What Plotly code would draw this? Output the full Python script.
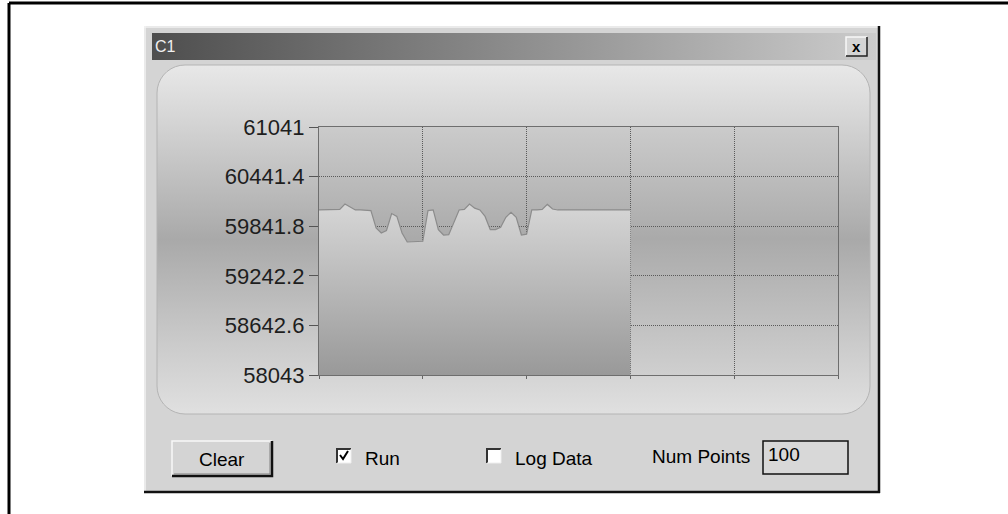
import numpy as np
import plotly.graph_objects as go

# ---------------- data ----------------
window_title = "C1"
y_tick_values = [58043, 58642.6, 59242.2, 59841.8, 60441.4, 61041]
y_tick_labels = ["58043", "58642.6", "59242.2", "59841.8", "60441.4", "61041"]
x_axis_max = 100            # "Num Points" setting
x_grid_values = [0, 20, 40, 60, 80, 100]
sample_index = list(range(61))
sample_values = [
    60038, 60038, 60038, 60038, 60045, 60110, 60070, 60038, 60038, 60038,
    60030, 59820, 59760, 59790, 59995, 59960, 59760, 59651, 59651, 59651,
    59660, 60030, 60038, 59800, 59735, 59740, 59900, 60038, 60045, 60110,
    60060, 60038, 59960, 59800, 59800, 59830, 59950, 60010, 59950, 59735,
    59745, 60038, 60038, 60045, 60105, 60050, 60038, 60038, 60038, 60038,
    60038, 60038, 60038, 60038, 60038, 60038, 60038, 60038, 60038, 60038,
    60038,
]
control_labels = ["Clear", "Run", "Log Data", "Num Points"]
num_points_text = "100"

# ---------------- figure ----------------
W, H = 1008, 514
FONT = "Liberation Sans, Arial, sans-serif"
fig = go.Figure()


def rrect(x0, y0, x1, y1, r, n=10):
    xs, ys = [], []
    corners = [(x1 - r, y0 + r, -90, 0), (x1 - r, y1 - r, 0, 90),
               (x0 + r, y1 - r, 90, 180), (x0 + r, y0 + r, 180, 270)]
    for cx, cy, a0, a1 in corners:
        for t in np.linspace(a0, a1, n):
            xs.append(cx + r * np.cos(np.radians(t)))
            ys.append(cy + r * np.sin(np.radians(t)))
    xs.append(xs[0])
    ys.append(ys[0])
    return xs, ys


# rounded inner panel (gradient)
px, py = rrect(157, 65, 870, 414, 28)
fig.add_trace(go.Scatter(
    x=px, y=py, mode="lines", fill="toself", xaxis="x", yaxis="y",
    line=dict(color="#b4b4b4", width=1),
    fillgradient=dict(type="vertical", start=65, stop=414,
                      colorscale=[[0, "#e8e8e8"], [0.15, "#d6d6d6"], [0.5, "#a9a9a9"],
                                  [0.8, "#cbcbcb"], [1, "#e0e0e0"]]),
    hoverinfo="skip", showlegend=False))

# plot-area background gradient
fig.add_trace(go.Scatter(
    x=[319, 838, 838, 319, 319], y=[127, 127, 375, 375, 127], mode="lines",
    fill="toself", xaxis="x", yaxis="y", line=dict(width=0),
    fillgradient=dict(type="vertical", start=127, stop=375,
                      colorscale=[[0, "#cbcbcb"], [0.45, "#aaaaaa"], [1, "#cfcfcf"]]),
    hoverinfo="skip", showlegend=False))

# title bar gradient
fig.add_trace(go.Scatter(
    x=[152, 876, 876, 152, 152], y=[33, 33, 60, 60, 33], mode="lines",
    fill="toself", xaxis="x", yaxis="y", line=dict(width=0),
    fillgradient=dict(type="horizontal", start=152, stop=876,
                      colorscale=[[0, "#4e4e4e"], [1, "#cbcbcb"]]),
    hoverinfo="skip", showlegend=False))

# the data series
fig.add_trace(go.Scatter(
    x=sample_index, y=sample_values, mode="lines", fill="tozeroy",
    xaxis="x2", yaxis="y2",
    line=dict(color="#8c8c8c", width=1.2),
    fillgradient=dict(type="vertical", start=58043, stop=60110,
                      colorscale=[[0, "#999999"], [1, "#d6d6d6"]]),
    hoverinfo="skip", showlegend=False))

shapes = []
# outer page frame (top and left)
shapes.append(dict(type="line", xref="x", yref="y", x0=9, x1=1008, y0=3, y1=3,
                   line=dict(color="black", width=3), layer="below"))
shapes.append(dict(type="line", xref="x", yref="y", x0=9, x1=9, y0=3, y1=514,
                   line=dict(color="black", width=3), layer="below"))
# window face
shapes.append(dict(type="rect", xref="x", yref="y", x0=144, x1=880, y0=26, y1=493,
                   fillcolor="#d4d4d4", line=dict(width=0), layer="below"))
shapes.append(dict(type="line", xref="x", yref="y", x0=145, x1=145, y0=26, y1=492,
                   line=dict(color="#f2f2f2", width=1.5), layer="below"))
shapes.append(dict(type="line", xref="x", yref="y", x0=144, x1=879, y0=27, y1=27,
                   line=dict(color="#f2f2f2", width=1.5), layer="below"))
shapes.append(dict(type="line", xref="x", yref="y", x0=144, x1=880, y0=492, y1=492,
                   line=dict(color="#111111", width=2.5), layer="below"))
shapes.append(dict(type="line", xref="x", yref="y", x0=879, x1=879, y0=26, y1=493,
                   line=dict(color="#111111", width=2.5), layer="below"))

# close button
shapes.append(dict(type="rect", xref="x", yref="y", x0=846, x1=867, y0=37, y1=56,
                   fillcolor="#d4d4d4", line=dict(width=0)))
shapes.append(dict(type="path", xref="x", yref="y", path="M 846 56 L 846 37 L 867 37",
                   line=dict(color="#f8f8f8", width=1.5)))
shapes.append(dict(type="path", xref="x", yref="y", path="M 846 56 L 867 56 L 867 37",
                   line=dict(color="#202020", width=1.5)))

# Clear button
shapes.append(dict(type="rect", xref="x", yref="y", x0=172, x1=272, y0=441, y1=476,
                   fillcolor="#d4d4d4", line=dict(width=0)))
shapes.append(dict(type="path", xref="x", yref="y", path="M 172 476 L 172 441 L 272 441",
                   line=dict(color="#f8f8f8", width=1.5)))
shapes.append(dict(type="path", xref="x", yref="y", path="M 172 476 L 272 476 L 272 441",
                   line=dict(color="#111111", width=2.5)))
shapes.append(dict(type="path", xref="x", yref="y", path="M 174 474 L 270 474 L 270 443",
                   line=dict(color="#808080", width=1)))

# check boxes
for bx in (337, 487):
    shapes.append(dict(type="rect", xref="x", yref="y", x0=bx, x1=bx + 14, y0=449, y1=463,
                       fillcolor="white", line=dict(width=0)))
    shapes.append(dict(type="path", xref="x", yref="y",
                       path=f"M {bx} 463 L {bx} 449 L {bx + 14} 449",
                       line=dict(color="#333333", width=2)))
    shapes.append(dict(type="path", xref="x", yref="y",
                       path=f"M {bx} 463 L {bx + 14} 463 L {bx + 14} 449",
                       line=dict(color="#eeeeee", width=1)))
shapes.append(dict(type="path", xref="x", yref="y", path="M 340 455 L 343 459 L 348 451",
                   line=dict(color="black", width=2)))

# Num Points text box
shapes.append(dict(type="rect", xref="x", yref="y", x0=763, x1=848, y0=441, y1=474,
                   fillcolor="#d8d8d8", line=dict(color="#111111", width=1.5)))

fig.update_layout(shapes=shapes)

ann = []
ann.append(dict(x=153, y=46, xref="x", yref="y", text=window_title, showarrow=False,
                xanchor="left", yanchor="middle",
                font=dict(family=FONT, size=16, color="#f0f0f0")))
ann.append(dict(x=856.5, y=46, xref="x", yref="y", text="<b>x</b>", showarrow=False,
                xanchor="center", yanchor="middle",
                font=dict(family=FONT, size=15, color="black")))
ann.append(dict(x=222, y=459, xref="x", yref="y", text=control_labels[0], showarrow=False,
                xanchor="center", yanchor="middle", font=dict(family=FONT, size=19, color="black")))
ann.append(dict(x=363, y=458, xref="x", yref="y", text=control_labels[1], showarrow=False,
                xanchor="left", yanchor="middle", font=dict(family=FONT, size=19, color="black")))
ann.append(dict(x=513, y=458, xref="x", yref="y", text=control_labels[2], showarrow=False,
                xanchor="left", yanchor="middle", font=dict(family=FONT, size=19, color="black")))
ann.append(dict(x=650, y=456, xref="x", yref="y", text=control_labels[3], showarrow=False,
                xanchor="left", yanchor="middle", font=dict(family=FONT, size=19, color="black")))
ann.append(dict(x=766, y=454, xref="x", yref="y", text=num_points_text, showarrow=False,
                xanchor="left", yanchor="middle", font=dict(family=FONT, size=19, color="black")))
fig.update_layout(annotations=ann)

fig.update_layout(
    width=W, height=H, margin=dict(l=0, r=0, t=0, b=0, pad=0, autoexpand=False),
    paper_bgcolor="white", plot_bgcolor="rgba(0,0,0,0)", showlegend=False,
    xaxis=dict(domain=[0, 1], range=[0, W], visible=False, fixedrange=True,
               automargin=False),
    yaxis=dict(domain=[0, 1], range=[H, 0], visible=False, fixedrange=True,
               automargin=False),
    xaxis2=dict(domain=[319 / W, 838 / W], range=[0, x_axis_max], anchor="y2",
                tickvals=x_grid_values, showticklabels=False, ticks="outside",
                ticklen=3, tickcolor="#666666", showgrid=True, gridcolor="#5a5a5a",
                griddash="1px,1px", gridwidth=1, zeroline=False, showline=True,
                linecolor="#6e6e6e", linewidth=1.2, mirror=True, fixedrange=True,
                automargin=False),
    yaxis2=dict(domain=[1 - 375 / H, 1 - 127 / H], range=[58043, 61041], anchor="x2",
                tickvals=y_tick_values, ticktext=y_tick_labels, ticks="outside",
                ticklen=9, tickcolor="#555555",
                tickfont=dict(family=FONT, size=22, color="#1e1e1e"),
                showgrid=True, gridcolor="#5a5a5a", griddash="1px,1px", gridwidth=1,
                zeroline=False, showline=True, linecolor="#6e6e6e", linewidth=1.2,
                mirror=True, fixedrange=True, automargin=False),
)

fig.write_html("out.html", config={"displayModeBar": False, "staticPlot": True},
               post_script="document.body.style.margin='0';document.body.style.overflow='hidden';")
